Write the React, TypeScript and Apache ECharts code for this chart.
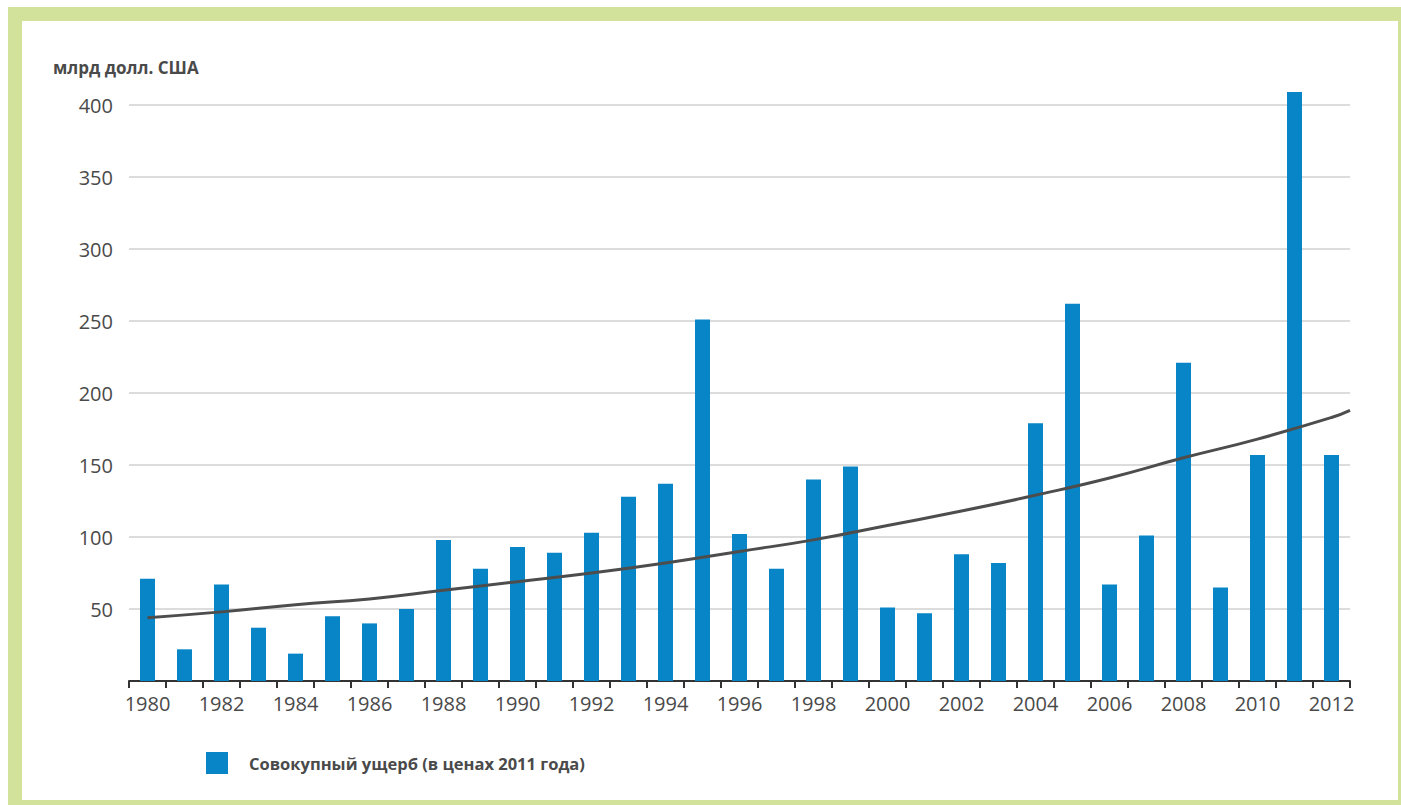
import React, { useEffect, useRef } from "react";
import * as echarts from "echarts";

const years: string[] = [
  "1980","1981","1982","1983","1984","1985","1986","1987","1988","1989",
  "1990","1991","1992","1993","1994","1995","1996","1997","1998","1999",
  "2000","2001","2002","2003","2004","2005","2006","2007","2008","2009",
  "2010","2011","2012",
];

const damage: number[] = [
  71, 22, 67, 37, 19, 45, 40, 50, 98, 78,
  93, 89, 103, 128, 137, 251, 102, 78, 140, 149,
  51, 47, 88, 82, 179, 262, 67, 101, 221, 65,
  157, 409, 157,
];

// trend line: [year position, value]
const trendX: number[] = [1980, 1982, 1984, 1986, 1988, 1990, 1992, 1994, 1996, 1998, 2000, 2002, 2004, 2006, 2008, 2010, 2012, 2012.5];
const trendY: number[] = [44, 48, 53, 57, 63, 69, 75, 82, 90, 98, 108, 118, 129, 141, 155, 168, 183, 188];

const yTicks: number[] = [0, 50, 100, 150, 200, 250, 300, 350, 400];

const unitLabel = "млрд долл. США";
const legendLabel = "Совокупный ущерб (в ценах 2011 года)";

const FONT = "'Open Sans', 'Noto Sans', sans-serif";
const GREEN = "#d3e29b";

export default function App() {
  const ref = useRef<HTMLDivElement>(null);
  useEffect(() => {
    if (!ref.current) return;
    const chart = echarts.init(ref.current, undefined, { renderer: "svg" });
    chart.setOption({
      animation: false,
      backgroundColor: "#ffffff",
      textStyle: { fontFamily: FONT },
      grid: { left: 129, right: 51, top: 105, bottom: 124, containLabel: false },
      legend: {
        left: 206,
        top: 752,
        padding: 0,
        itemWidth: 22,
        itemHeight: 22,
        icon: "rect",
        data: [legendLabel],
        textStyle: {
          fontFamily: FONT,
          fontSize: 16.5,
          fontWeight: "bold",
          color: "#4a4a4a",
          padding: [0, 0, 0, 16],
        },
      },
      graphic: [
        { type: "rect", shape: { x: 8, y: 7, width: 1393, height: 14 }, style: { fill: GREEN } },
        { type: "rect", shape: { x: 8, y: 7, width: 14, height: 798 }, style: { fill: GREEN } },
        { type: "rect", shape: { x: 1398, y: 7, width: 3, height: 798 }, style: { fill: GREEN } },
        { type: "rect", shape: { x: 8, y: 800, width: 1393, height: 5 }, style: { fill: GREEN } },
        {
          type: "text",
          left: 53,
          top: 59,
          style: {
            text: unitLabel,
            fontFamily: FONT,
            fontSize: 17,
            fontWeight: "bold",
            fill: "#4a4a4a",
          },
        },
      ],
      xAxis: [
        {
          type: "category",
          data: years,
          boundaryGap: true,
          axisLine: { lineStyle: { color: "#333333", width: 2 } },
          axisTick: { show: true, interval: 0, length: 7, lineStyle: { color: "#333333", width: 2 } },
          axisLabel: { interval: 1, fontSize: 20, color: "#4a4a4a", margin: 12, fontFamily: FONT },
          splitLine: { show: false },
        },
        {
          type: "value",
          min: 1979.5,
          max: 2012.5,
          show: false,
        },
      ],
      yAxis: {
        type: "value",
        min: yTicks[0],
        max: yTicks[yTicks.length - 1],
        interval: 50,
        axisLine: { show: false },
        axisTick: { show: false },
        axisLabel: {
          fontSize: 20,
          color: "#4a4a4a",
          margin: 16,
          fontFamily: FONT,
          formatter: (v: number) => (v === 0 ? "" : String(v)),
        },
        splitLine: { show: true, lineStyle: { color: "#d0d0d0", width: 1.5 } },
      },
      series: [
        {
          name: legendLabel,
          type: "bar",
          data: damage,
          barWidth: 15,
          clip: false,
          itemStyle: { color: "#0785c6" },
        },
        {
          name: "trend",
          type: "line",
          xAxisIndex: 1,
          data: trendX.map((x, i) => [x, trendY[i]]),
          smooth: true,
          symbol: "none",
          lineStyle: { color: "#4d4d4d", width: 3 },
          z: 5,
        },
      ],
    });
    return () => chart.dispose();
  }, []);
  return (
    <div
      ref={ref}
      style={{ position: "fixed", left: 0, top: 0, width: 1401, height: 805 }}
    />
  );
}
